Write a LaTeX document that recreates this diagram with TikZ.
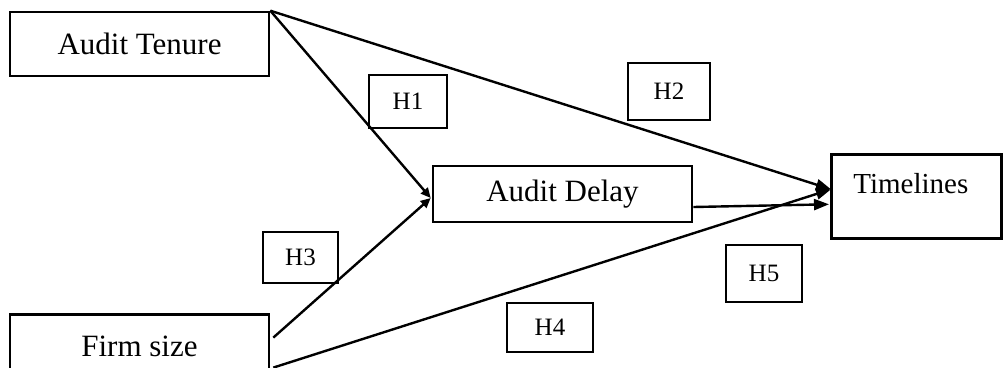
\documentclass[tikz,border=0pt]{standalone}
\usepackage{fontspec}
\setmainfont{Liberation Serif}
\usepackage{tikz}
\usetikzlibrary{arrows.meta,positioning,calc}

\begin{document}
\begin{tikzpicture}[x=1pt,y=-1pt,
  var/.style={rectangle,draw,line width=2.6pt,align=center,
              minimum width=259pt,font=\fontsize{31}{36}\selectfont},
  hyp/.style={rectangle,draw,line width=2.6pt,fill=white,
              font=\fontsize{25}{30}\selectfont},
  arr/.style={-{Triangle[length=15pt,width=11pt]},line width=2.4pt},
  arrs/.style={-{Triangle[length=10pt,width=9pt]},line width=2.4pt}
]
\useasboundingbox (0,0) rectangle (1003,367);
\clip (0,0) rectangle (1003,367);

% variables
\node[var,minimum height=64pt] (at) at (139.5,44) {Audit Tenure};
\node[var,minimum height=64pt,below=236pt of at] (fs) {Firm size};
\node[var,minimum height=56pt] (ad) at (562.5,194) {Audit Delay};
\node[rectangle,draw,line width=2.6pt,anchor=north west,align=left,
      text width=126pt,inner xsep=22pt,inner ysep=4pt,
      text height=35pt,text depth=41pt,
      font=\fontsize{29}{34}\selectfont] (tl) at (830,153) {Timelines};

% hypotheses
\node[hyp,minimum width=78pt,minimum height=53pt] (h1) at (408,101.5) {H1};
\node[hyp,minimum width=82pt,minimum height=57pt] (h2) at (669,91.5) {H2};
\node[hyp,minimum width=75pt,minimum height=51pt] (h3) at (300.5,257.5) {H3};
\node[hyp,minimum width=86pt,minimum height=49pt] (h4) at (550,327.5) {H4};
\node[hyp,minimum width=76pt,minimum height=57pt] (h5) at (764,273.5) {H5};

% arrow ends
\coordinate (adin) at ($(ad.west)+(-1,4)$);
\coordinate (tlup) at ($(tl.west)+(1,-7)$);
\coordinate (tllo) at ($(tl.west)+(-1,8)$);

\draw[arrs] (at.north east) -- (adin);
\draw[arr] (at.north east) -- (tlup);
\draw[arrs] ($(fs.east)+(3,-9)$) -- (adin);
\draw[arr] ($(fs.east)+(3,21)$) -- (tlup);
\draw[arr] ($(ad.east)+(0,13)$) -- (tllo);
\end{tikzpicture}
\end{document}
